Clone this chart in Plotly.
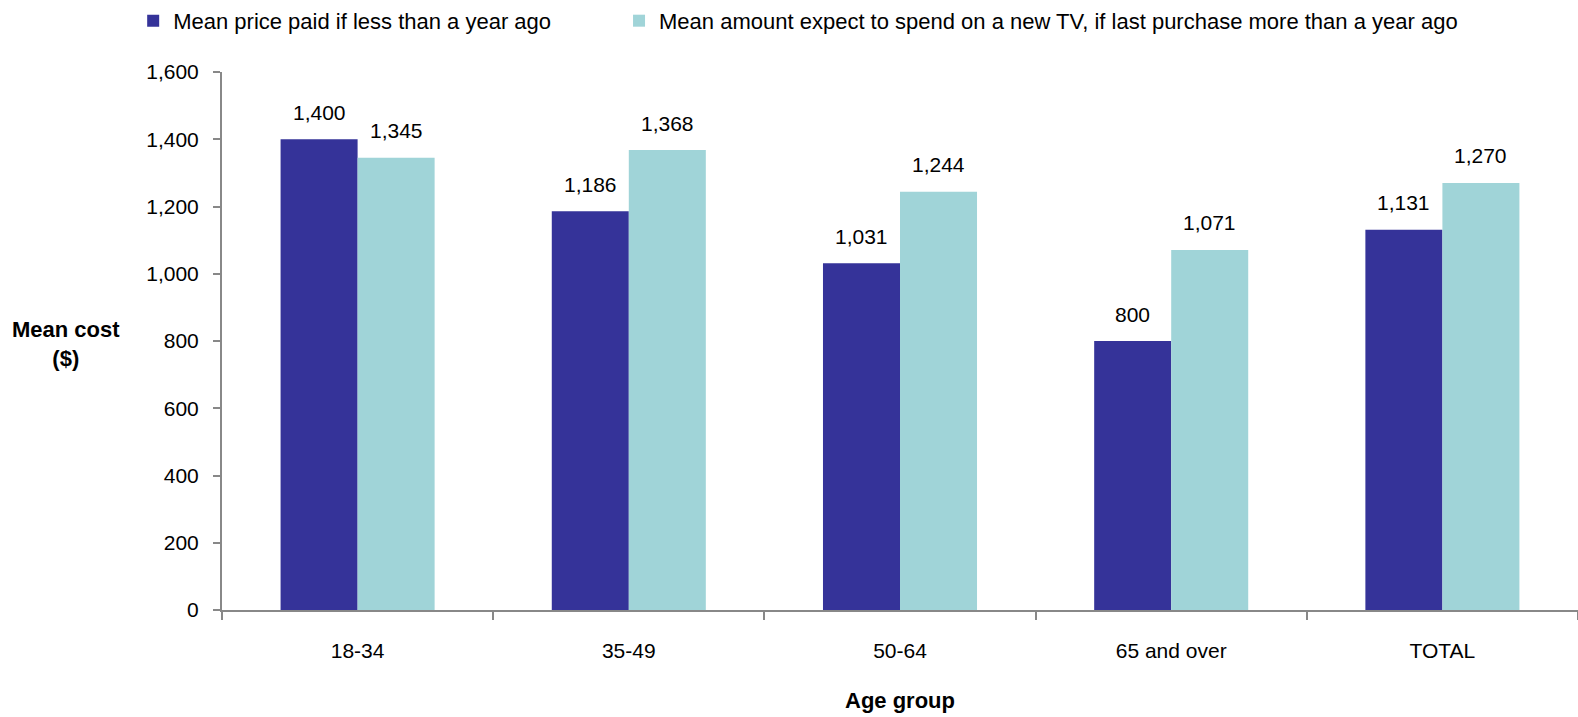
import plotly.graph_objects as go

categories = ["18-34", "35-49", "50-64", "65 and over", "TOTAL"]
price_paid = [1400, 1186, 1031, 800, 1131]
expect_spend = [1345, 1368, 1244, 1071, 1270]
series_names = [
    "Mean price paid if less than a year ago",
    "Mean amount expect to spend on a new TV, if last purchase more than a year ago",
]
y_ticks = [0, 200, 400, 600, 800, 1000, 1200, 1400, 1600]

FONT = "Liberation Sans, Arial, sans-serif"
DARK = "#353399"
LIGHT = "#A0D4D8"
BARGAP = 0.432
FS = 21

fig = go.Figure()
fig.add_trace(go.Bar(x=categories, y=price_paid, name=series_names[0],
                     marker=dict(color=DARK, line=dict(width=0)), legend="legend"))
fig.add_trace(go.Bar(x=categories, y=expect_spend, name=series_names[1],
                     marker=dict(color=LIGHT, line=dict(width=0)), legend="legend2"))

off = (1 - BARGAP) / 4
annotations = []
for i, (a, b) in enumerate(zip(price_paid, expect_spend)):
    for val, dx in ((a, -off), (b, off)):
        annotations.append(dict(x=i + dx, y=val, xref="x", yref="y",
                                text=f"{val:,}", showarrow=False,
                                yanchor="middle", yshift=27,
                                font=dict(family=FONT, size=FS, color="#000")))

annotations.append(dict(x=-0.115, y=0.494, xref="paper", yref="paper",
                        text="<b>Mean cost</b><br><b>($)</b>", showarrow=False,
                        xanchor="center", yanchor="middle", align="center",
                        font=dict(family=FONT, size=22, color="#000")))
annotations.append(dict(x=0.5, y=-0.169, xref="paper", yref="paper",
                        text="<b>Age group</b>", showarrow=False,
                        xanchor="center", yanchor="middle",
                        font=dict(family=FONT, size=22, color="#000")))

leg_common = dict(orientation="h", y=1.095, xanchor="left", yanchor="middle",
                  font=dict(family=FONT, size=22, color="#000"),
                  bgcolor="rgba(0,0,0,0)", borderwidth=0)

fig.update_layout(
    width=1578, height=717,
    margin=dict(l=222, r=0, t=72, b=107, autoexpand=False),
    paper_bgcolor="white", plot_bgcolor="white",
    barmode="group", bargap=BARGAP, bargroupgap=0,
    font=dict(family=FONT, size=FS, color="#000"),
    showlegend=True,
    legend=dict(x=-0.0655, **leg_common),
    legend2=dict(x=0.2928, **leg_common),
    annotations=annotations,
    xaxis=dict(type="category", showline=True, linecolor="#888888", linewidth=2,
               ticks="outside", tickson="boundaries", ticklen=8, tickwidth=2,
               tickcolor="#888888", showgrid=False, ticklabelstandoff=21,
               tickfont=dict(family=FONT, size=FS, color="#000")),
    yaxis=dict(range=[0, 1600], tickvals=y_ticks, tickformat=",",
               showline=True, linecolor="#888888", linewidth=2,
               ticks="outside", ticklen=7, tickwidth=2, tickcolor="#888888",
               showgrid=False, zeroline=False, ticklabelstandoff=10,
               tickfont=dict(family=FONT, size=FS, color="#000")),
)

fig.write_html("out.html",
               config={"displayModeBar": False},
               post_script="document.body.style.margin='0';document.body.style.overflow='hidden';")
